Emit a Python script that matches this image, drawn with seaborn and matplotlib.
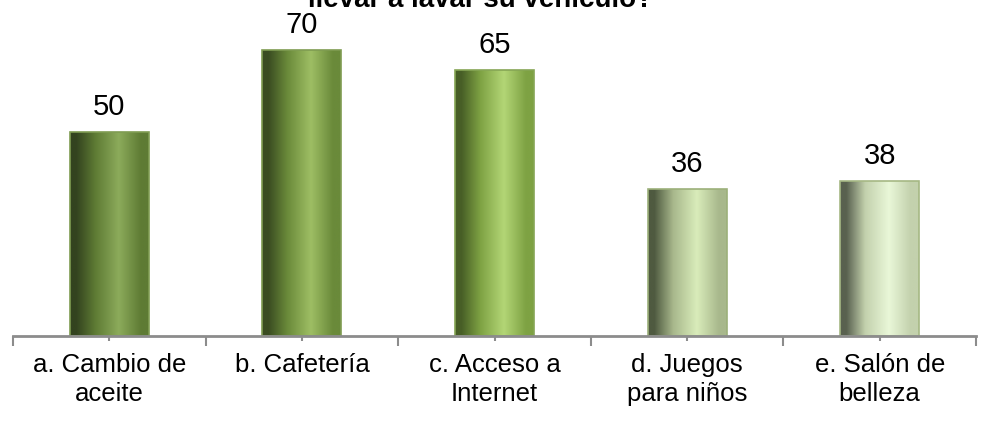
import matplotlib
matplotlib.use("Agg")
import numpy as np
import pandas as pd
import matplotlib.pyplot as plt
import seaborn as sns
from matplotlib import font_manager
from matplotlib.colors import LinearSegmentedColormap

# datos
categorias = ["a. Cambio de\naceite", "b. Cafetería", "c. Acceso a\nInternet",
              "d. Juegos\npara niños", "e. Salón de\nbelleza"]
valores = [50, 70, 65, 36, 38]
titulo = "llevar a lavar su vehículo?"

# degradado de cada barra: oscuro, medio, brillo
tonos = [
    ("#33431f", "#5e7b34", "#8cab5b"),
    ("#3a4c21", "#6a8a3a", "#9ebe64"),
    ("#475e26", "#7ea243", "#b3d676"),
    ("#4f5a40", "#a8b88c", "#d9ecba"),
    ("#59614f", "#c3d1ad", "#e9f7d8"),
]
bordes = ["#7f9c52", "#7f9c52", "#86a655", "#9cb07a", "#a6b884"]

sns.set_style("white")
plt.rcParams["font.family"] = ["Liberation Sans", "DejaVu Sans"]
plt.rcParams["text.color"] = "black"
plt.rcParams["xtick.color"] = "#8c8c8c"
plt.rcParams["xtick.labelcolor"] = "black"

# fuente estrecha para los valores, si existe
try:
    font_manager.findfont("Liberation Sans Narrow", fallback_to_default=False)
    fam_valores, tam_valores = ["Liberation Sans Narrow"], 23
except Exception:
    fam_valores, tam_valores = ["Liberation Sans"], 21

df = pd.DataFrame({"categoria": categorias, "valor": valores})

fig = plt.figure(figsize=(9.82, 4.30), dpi=100)
ax = fig.add_axes([13 / 982, 94 / 430, 963 / 982, 327 / 430])

sns.barplot(data=df, x="categoria", y="valor", width=0.41, color="white",
            saturation=1, ax=ax)

# relleno con degradado horizontal recortado a cada barra
for patch, (osc, med, bri), borde in zip(ax.patches, tonos, bordes):
    cmap = LinearSegmentedColormap.from_list(
        "g", [(0.0, osc), (0.08, osc), (0.32, med), (0.62, bri), (0.9, med), (1.0, med)])
    x0, y0 = patch.get_x(), patch.get_y()
    w, h = patch.get_width(), patch.get_height()
    grad = np.linspace(0, 1, 256).reshape(1, -1)
    img = ax.imshow(grad, cmap=cmap, aspect="auto", extent=[x0, x0 + w, y0, y0 + h],
                    zorder=patch.get_zorder() + 0.1)
    img.set_clip_path(patch)
    patch.set_facecolor("none")
    patch.set_edgecolor(borde)
    patch.set_linewidth(1.2)
    patch.set_zorder(patch.get_zorder() + 0.2)

ax.bar_label(ax.containers[0], labels=[str(v) for v in valores], padding=8,
             fontsize=tam_valores, family=fam_valores, color="black")

ax.set_xlim(-0.5, 4.5)
ax.set_ylim(0, 80)
ax.set_xlabel("")
ax.set_ylabel("")
ax.set_yticks([])

for lado in ["top", "right", "left"]:
    ax.spines[lado].set_visible(False)
ax.spines["bottom"].set_color("#8c8c8c")
ax.spines["bottom"].set_linewidth(2)
ax.spines["bottom"].set_zorder(5)

ax.set_xticks(range(len(categorias)))
ax.set_xticklabels(categorias, fontsize=18.5, linespacing=1.25)
ax.set_xticks(np.arange(-0.5, len(categorias)), minor=True)
ax.tick_params(axis="x", which="both", bottom=True)
ax.tick_params(axis="x", which="major", direction="inout", length=7, width=1.5,
               color="#8c8c8c", pad=9)
ax.tick_params(axis="x", which="minor", direction="out", length=7, width=1.5,
               color="#8c8c8c")

fig.text(481 / 982, 1 - 7 / 430, titulo, ha="center", va="baseline",
         fontsize=20, fontweight="bold")

fig.savefig("out.png", dpi=100)
